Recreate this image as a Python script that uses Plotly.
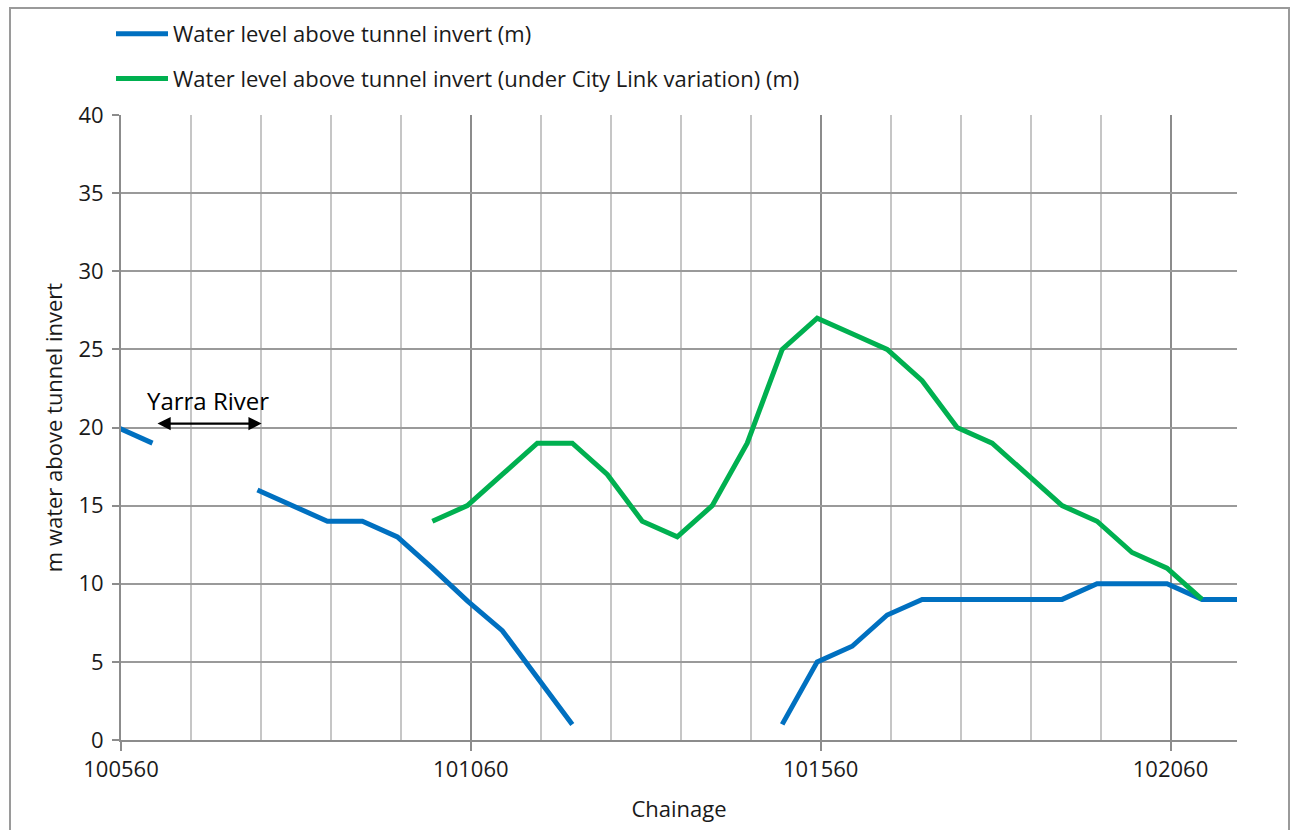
import plotly.graph_objects as go

# Chainage values (m)
chainage = [100555, 100605, 100655, 100705, 100755, 100805, 100855, 100905, 100955,
            101005, 101055, 101105, 101155, 101205, 101255, 101305, 101355, 101405,
            101455, 101505, 101555, 101605, 101655, 101705, 101755, 101805, 101855,
            101905, 101955, 102005, 102055, 102105, 102155]

water_level = [20, 19, None, None, 16, 15, 14, 14, 13,
               11, 8.9, 7, 4, 1, None, None, None, None,
               None, 1, 5, 6, 8, 9, 9, 9, 9,
               9, 10, 10, 10, 9, 9]

water_level_citylink = [None, None, None, None, None, None, None, None, None,
                        14, 15, 17, 19, 19, 17, 14, 13, 15,
                        19, 25, 27, 26, 25, 23, 20, 19, 17,
                        15, 14, 12, 11, 9, None]

series_names = ["Water level above tunnel invert (m)",
                "Water level above tunnel invert (under City Link variation) (m)"]

x_tick_vals = [100560, 101060, 101560, 102060]
y_tick_vals = [0, 5, 10, 15, 20, 25, 30, 35, 40]

FONT = "Open Sans"
BLUE = "#0070C0"
GREEN = "#00B050"
TXT = "#1a1a1a"

fig = go.Figure()
fig.add_trace(go.Scatter(x=chainage, y=water_level, mode="lines", name=series_names[0],
                         line=dict(color=BLUE, width=5), connectgaps=False,
                         legendgroup="a"))
fig.add_trace(go.Scatter(x=chainage, y=water_level_citylink, mode="lines", name=series_names[1],
                         line=dict(color=GREEN, width=5), connectgaps=False,
                         legendgroup="b"))

W, H = 1297, 830
L, R, T, B = 121, 60, 115, 90
pw, ph = W - L - R, H - T - B

def px_to_paper_x(px):
    return (px - L) / pw

def px_to_paper_y(py):
    return (H - B - py) / ph

fig.update_layout(
    width=W, height=H,
    margin=dict(l=L, r=R, t=T, b=B, pad=0),
    paper_bgcolor="white", plot_bgcolor="white",
    font=dict(family=FONT, size=22, color=TXT),
    showlegend=True,
    legend=dict(x=px_to_paper_x(111), y=px_to_paper_y(13), xanchor="left", yanchor="top",
                orientation="v", tracegroupgap=13, itemwidth=52,
                font=dict(family=FONT, size=22, color=TXT),
                bgcolor="rgba(0,0,0,0)"),
    xaxis=dict(range=[100560, 102155], tickmode="array", tickvals=x_tick_vals,
               ticktext=[str(v) for v in x_tick_vals],
               showgrid=True, gridcolor="#8c8c8c", gridwidth=2,
               minor=dict(dtick=100, tick0=100560, showgrid=True, gridcolor="#c6c6c6", gridwidth=2),
               ticks="outside", ticklen=9, tickwidth=2, tickcolor="#8c8c8c",
               showline=True, linecolor="#8c8c8c", linewidth=2,
               zeroline=False,
               title=dict(text="Chainage", font=dict(family=FONT, size=22), standoff=19),
               tickfont=dict(family=FONT, size=22)),
    yaxis=dict(range=[0, 40], tickmode="array", tickvals=y_tick_vals,
               showgrid=True, gridcolor="#9a9a9a", gridwidth=2,
               ticks="outside", ticklen=7, tickwidth=2, tickcolor="#8c8c8c",
               showline=True, linecolor="#8c8c8c", linewidth=2,
               zeroline=False, ticklabelstandoff=4,
               title=dict(text="m water above tunnel invert", font=dict(family=FONT, size=22), standoff=10),
               tickfont=dict(family=FONT, size=22)),
)

# Yarra River annotation with double-headed arrow
fig.add_annotation(x=100761, y=20.25, ax=100610, ay=20.25, xref="x", yref="y",
                   axref="x", ayref="y", text="", showarrow=True,
                   arrowhead=2, startarrowhead=2, arrowside="end+start",
                   arrowsize=1.2, startarrowsize=1.2, arrowwidth=2.2, arrowcolor="black")
fig.add_annotation(x=100685, y=21.75, xref="x", yref="y", text="Yarra River",
                   showarrow=False, font=dict(family=FONT, size=24, color="black"))

# Outer chart border
fig.add_shape(type="rect", xref="paper", yref="paper",
              x0=px_to_paper_x(10), x1=px_to_paper_x(1289),
              y0=px_to_paper_y(845), y1=px_to_paper_y(8),
              line=dict(color="#9a9a9a", width=2), fillcolor="rgba(0,0,0,0)", layer="below")

fig.write_html("out.html")
